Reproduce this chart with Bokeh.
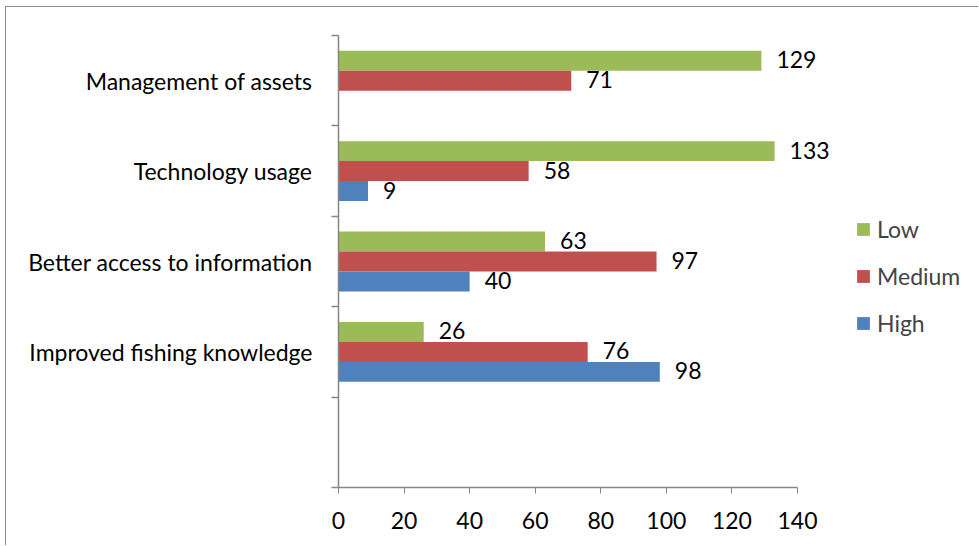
from bokeh.plotting import figure
from bokeh.models import (ColumnDataSource, Range1d, FixedTicker, LabelSet,
                          Legend, LegendItem)
from bokeh.core.properties import value
from bokeh.embed import file_html
from bokeh.resources import INLINE

# ---- data ----
categories = ["", "Improved fishing knowledge", "Better access to information",
              "Technology usage", "Management of assets"]
series_names = ["Low", "Medium", "High"]
low = [None, 26, 63, 133, 129]
medium = [None, 76, 97, 58, 71]
high = [None, 98, 40, 9, None]
x_ticks = [0, 20, 40, 60, 80, 100, 120, 140]

colors = {"Low": "#9BBB59", "Medium": "#C0504D", "High": "#4F81BD"}
offsets = {"Low": 0.221, "Medium": 0.0, "High": -0.221}
values = {"Low": low, "Medium": medium, "High": high}

FONT = "Lato"
FS = "23px"

W, H = 973, 539
FL, FT, FB, FR = 332, 28, 480, 969     # frame edges inside canvas
axis_px = 459                           # pixels for 0..140
x_end = 140 * (FR - FL) / axis_px

p = figure(width=W, height=H, output_backend="svg", toolbar_location=None,
           x_range=Range1d(0, x_end), y_range=Range1d(0, len(categories)),
           min_border_left=FL, min_border_right=W - FR, min_border_top=FT,
           min_border_bottom=H - FB)
p.styles = {"margin-left": "5px", "margin-top": "6px",
            "border-left": "1px solid #8c8c8c", "border-top": "1px solid #8c8c8c"}
p.outline_line_color = None
p.xgrid.grid_line_color = None
p.ygrid.grid_line_color = None

bar_h = 0.221
renderers = {}
for name in series_names:
    ys, xs, labs = [], [], []
    for i, v in enumerate(values[name]):
        if v is None:
            continue
        ys.append(i + 0.5 + offsets[name])
        xs.append(v)
        labs.append(str(v))
    src = ColumnDataSource(dict(y=ys, x=xs, label=labs))
    r = p.hbar(y="y", right="x", left=0, height=bar_h, source=src,
               fill_color=colors[name], line_color=None)
    renderers[name] = r
    p.add_layout(LabelSet(x="x", y="y", text="label", source=src, x_offset=15,
                          y_offset=1, text_baseline="middle", text_font=value(FONT),
                          text_font_size=value(FS), text_color="#000000"))

# x axis
xa = p.xaxis[0]
xa.bounds = (0, 140)
xa.ticker = FixedTicker(ticks=x_ticks, minor_ticks=[])
xa.axis_line_color = "#868686"
xa.axis_line_width = 1.5
xa.major_tick_line_color = "#868686"
xa.major_tick_in = 0
xa.major_tick_out = 6
xa.minor_tick_line_color = None
xa.major_label_text_font = FONT
xa.major_label_text_font_size = FS
xa.major_label_text_color = "#000000"
xa.major_label_standoff = 18

# y axis
ya = p.yaxis[0]
centers = [i + 0.5 for i in range(len(categories))]
ya.ticker = FixedTicker(ticks=centers, minor_ticks=list(range(len(categories) + 1)))
ya.major_label_overrides = {c: cat for c, cat in zip(centers, categories)}
ya.axis_line_color = "#868686"
ya.axis_line_width = 1.5
ya.major_tick_line_color = None
ya.major_tick_in = 0
ya.major_tick_out = 0
ya.minor_tick_line_color = "#868686"
ya.minor_tick_line_width = 1.5
ya.minor_tick_in = 0
ya.minor_tick_out = 7
ya.major_label_text_font = FONT
ya.major_label_text_font_size = FS
ya.major_label_text_color = "#000000"
ya.major_label_standoff = 19

legend = Legend(items=[LegendItem(label=n, renderers=[renderers[n]]) for n in series_names],
                location=(517, 150), orientation="vertical",
                border_line_color=None, background_fill_alpha=0,
                glyph_width=16, glyph_height=16, label_text_font=FONT,
                label_text_font_size=FS, spacing=19, padding=0, margin=0,
                label_standoff=6)
p.add_layout(legend, "center")

open("out.html", "w").write(file_html(p, INLINE))
